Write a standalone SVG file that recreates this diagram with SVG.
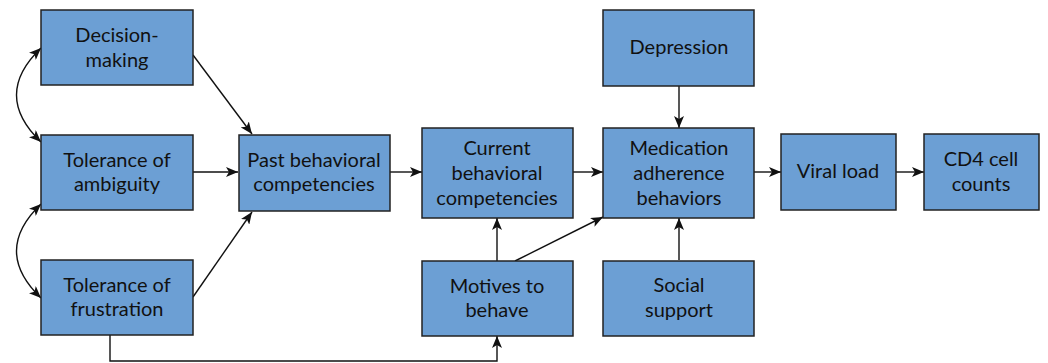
<svg xmlns="http://www.w3.org/2000/svg" width="1048" height="363" viewBox="0 0 1048 363">
<style>
.box{fill:#6c9fd4;stroke:#222;stroke-width:1.5}
.t{font-family:Lato,"Noto Sans",sans-serif;font-size:20px;fill:#111;text-anchor:middle}
.c{fill:none;stroke:#111;stroke-width:1.4}
</style>
<defs>
<marker id="a" viewBox="0 0 12 10" refX="12" refY="5" markerWidth="12" markerHeight="10" markerUnits="userSpaceOnUse" orient="auto-start-reverse">
<path d="M0,0 L12,5 L0,10 L3,5 Z" fill="#111"/>
</marker>
</defs>
<rect width="1048" height="363" fill="#fff"/>
<g id="connectors">
<path class="c" d="M193,55 L252,134" marker-end="url(#a)"/>
<path class="c" d="M193,172 L238,172" marker-end="url(#a)"/>
<path class="c" d="M193,297 L252,212" marker-end="url(#a)"/>
<path class="c" d="M390,172 L422,172" marker-end="url(#a)"/>
<path class="c" d="M573,172 L603,172" marker-end="url(#a)"/>
<path class="c" d="M679,86 L679,128" marker-end="url(#a)"/>
<path class="c" d="M679,260 L679,218" marker-end="url(#a)"/>
<path class="c" d="M497,261 L497,218" marker-end="url(#a)"/>
<path class="c" d="M515,261 L603,217" marker-end="url(#a)"/>
<path class="c" d="M754,172 L781,172" marker-end="url(#a)"/>
<path class="c" d="M896,172 L924,172" marker-end="url(#a)"/>
<path class="c" d="M110,335 L110,361 L497,361 L497,336" marker-end="url(#a)"/>
<path class="c" d="M41,48 Q-8,95 41,142" marker-start="url(#a)" marker-end="url(#a)"/>
<path class="c" d="M41,204 Q-8,251 41,298" marker-start="url(#a)" marker-end="url(#a)"/>
</g>
<g id="decision"><rect class="box" x="41" y="10" width="152" height="75"/><text class="t" x="117" y="42">Decision-</text><text class="t" x="117" y="67">making</text></g>
<g id="ambiguity"><rect class="box" x="41" y="135" width="152" height="75"/><text class="t" x="117" y="167">Tolerance of</text><text class="t" x="117" y="191">ambiguity</text></g>
<g id="frustration"><rect class="box" x="41" y="260" width="152" height="75"/><text class="t" x="117" y="292">Tolerance of</text><text class="t" x="117" y="316">frustration</text></g>
<g id="past"><rect class="box" x="239" y="135" width="151" height="76"/><text class="t" x="314" y="167">Past behavioral</text><text class="t" x="314" y="191">competencies</text></g>
<g id="current"><rect class="box" x="422" y="128" width="151" height="90"/><text class="t" x="497" y="155">Current</text><text class="t" x="497" y="180">behavioral</text><text class="t" x="497" y="205">competencies</text></g>
<g id="motives"><rect class="box" x="422" y="261" width="151" height="75"/><text class="t" x="497" y="293">Motives to</text><text class="t" x="497" y="317">behave</text></g>
<g id="depression"><rect class="box" x="603" y="10" width="151" height="76"/><text class="t" x="679" y="54">Depression</text></g>
<g id="medication"><rect class="box" x="603" y="128" width="151" height="90"/><text class="t" x="679" y="155">Medication</text><text class="t" x="679" y="180">adherence</text><text class="t" x="679" y="205">behaviors</text></g>
<g id="social"><rect class="box" x="603" y="261" width="151" height="75"/><text class="t" x="679" y="292">Social</text><text class="t" x="679" y="317">support</text></g>
<g id="viral"><rect class="box" x="781" y="134" width="115" height="76"/><text class="t" x="838" y="178">Viral load</text></g>
<g id="cd4"><rect class="box" x="924" y="134" width="115" height="76"/><text class="t" x="981" y="166">CD4 cell</text><text class="t" x="981" y="191">counts</text></g>
</svg>
